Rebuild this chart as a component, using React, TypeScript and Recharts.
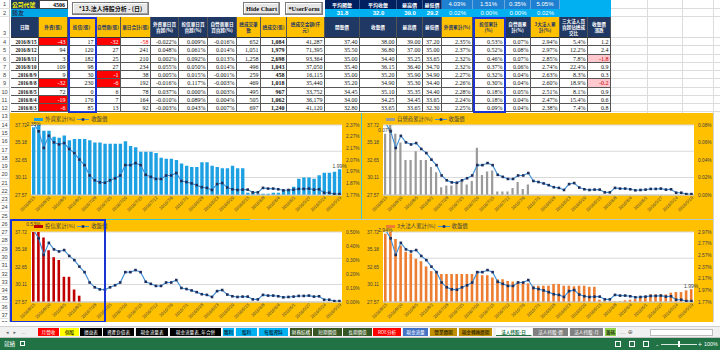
import React from 'react'
import { ComposedChart, Bar, Line, XAxis, YAxis, CartesianGrid, LabelList } from 'recharts'

const CJK = '"Noto Sans CJK TC", "Noto Sans CJK SC", sans-serif'
const SERIF = '"Liberation Serif", "DejaVu Serif", serif'
const SANS = '"Liberation Sans", "DejaVu Sans", sans-serif'

const NAVY = '#1f3864'
const YEL = '#ffc000'

// ---- 表格 (2016/8/15 ~ 2016/8/3) ----
const TABLE_DATES = ['2016/8/15', '2016/8/12', '2016/8/11', '2016/8/10', '2016/8/9', '2016/8/8', '2016/8/5', '2016/8/4', '2016/8/3']
const FOREIGN_LOTS = ['-43', '94', '3', '109', '9', '-32', '72', '-19', '-6']
const TRUST_LOTS = ['17', '120', '182', '98', '30', '230', '0', '176', '85']
const DEALER_LOTS = ['-32', '27', '25', '27', '-1', '-6', '6', '7', '13']
const DAY_TOTAL = ['-58', '241', '210', '234', '38', '192', '78', '164', '92']
const FOREIGN_PCT = ['-0.022%', '0.048%', '0.002%', '0.055%', '0.005%', '-0.016%', '0.037%', '-0.010%', '-0.003%']
const TRUST_PCT = ['0.009%', '0.061%', '0.092%', '0.050%', '0.015%', '0.117%', '0.000%', '0.089%', '0.043%']
const DEALER_PCT = ['-0.016%', '0.014%', '0.013%', '0.014%', '-0.001%', '-0.003%', '0.003%', '0.004%', '0.007%']
const TRADES = ['652', '1,051', '1,258', '496', '259', '469', '495', '505', '697']
const VOLUME = ['1,084', '1,979', '2,698', '1,043', '458', '1,018', '967', '1,062', '1,240']
const AMOUNT = ['41,287', '71,395', '93,364', '37,050', '16,115', '35,440', '33,752', '36,179', '41,120']
const OPEN_T = ['37.40', '35.50', '35.00', '35.40', '35.00', '35.20', '34.45', '34.00', '32.80']
const CLOSE_T = ['38.00', '36.80', '34.40', '36.15', '35.20', '34.90', '35.10', '34.25', '33.65']
const HIGH_T = ['39.00', '37.00', '35.25', '36.40', '35.90', '35.30', '35.35', '34.45', '33.65']
const LOW_T = ['37.20', '35.00', '33.65', '34.70', '34.90', '34.40', '34.40', '33.65', '32.30']
const F_CUM_T = ['2.35%', '2.37%', '2.32%', '2.32%', '2.27%', '2.26%', '2.28%', '2.24%', '2.25%']
const T_CUM_T = ['0.53%', '0.52%', '0.46%', '0.37%', '0.32%', '0.30%', '0.18%', '0.18%', '0.09%']
const D_CUM_T = ['0.07%', '0.08%', '0.07%', '0.06%', '0.04%', '0.04%', '0.05%', '0.04%', '0.04%']
const A_CUM_T = ['2.94%', '2.97%', '2.85%', '2.74%', '2.63%', '2.60%', '2.51%', '2.47%', '2.38%']
const RATIO_T = ['5.4%', '12.2%', '7.8%', '22.4%', '8.3%', '18.9%', '8.1%', '15.4%', '7.4%']
const CHANGE_T = ['1.2', '2.4', '-1.8', '0.9', '0.3', '-0.2', '0.9', '0.6', '0.8']

const TOP_LABELS = ['平均開盤', '平均收盤', '最高價', '最低價']
const TOP_VALUES = ['31.8', '32.0', '39.0', '29.2']
const CUM_TOTALS = ['4.03%', '1.51%', '0.35%', '5.05%']
const CUM_DAY = ['0.02%', '0.00%', '0.00%', '0.02%']

// ---- 圖表 (新到舊) ----
const DATES = [
  '2016/8/15', '2016/8/12', '2016/8/11', '2016/8/10', '2016/8/9', '2016/8/8', '2016/8/5', '2016/8/4', '2016/8/3', '2016/8/2',
  '2016/8/1', '2016/7/29', '2016/7/28', '2016/7/27', '2016/7/26', '2016/7/25', '2016/7/22', '2016/7/21', '2016/7/20', '2016/7/19',
  '2016/7/18', '2016/7/15', '2016/7/14', '2016/7/13', '2016/7/12', '2016/7/11', '2016/7/7', '2016/7/6', '2016/7/5', '2016/7/4',
  '2016/7/1', '2016/6/30', '2016/6/29', '2016/6/28', '2016/6/27', '2016/6/24', '2016/6/23', '2016/6/22', '2016/6/21', '2016/6/20',
  '2016/6/17', '2016/6/16', '2016/6/15', '2016/6/14', '2016/6/13', '2016/6/8', '2016/6/7', '2016/6/6', '2016/6/4', '2016/6/3',
  '2016/6/2', '2016/6/1', '2016/5/31', '2016/5/30', '2016/5/27', '2016/5/26', '2016/5/25', '2016/5/24', '2016/5/23', '2016/5/20',
  '2016/5/19',
]
const CLOSE_PRICE = [
  38.0, 36.8, 34.4, 36.15, 35.2, 34.9, 35.1, 34.25, 33.65, 32.7,
  31.9, 30.4, 29.7, 29.4, 29.35, 29.7, 30.0, 30.4, 31.9, 31.9,
  32.2, 31.9, 30.5, 30.2, 29.9, 29.9, 30.4, 30.4, 30.75, 29.6,
  29.45, 29.25, 29.0, 28.7, 28.6, 28.3, 29.15, 29.3, 28.65, 28.4,
  28.3, 28.35, 28.35, 27.95, 27.95, 28.6, 28.5, 28.5, 28.4, 28.25,
  28.3, 28.35, 28.45, 28.45, 28.5, 28.35, 28.4, 27.9, 27.9, 27.7,
  27.7,
]
const FOREIGN_CUM = [
  2.35, 2.37, 2.32, 2.32, 2.27, 2.26, 2.28, 2.24, 2.25, 2.25,
  2.25, 2.24, 2.22, 2.22, 2.21, 2.21, 2.21, 2.21, 2.23, 2.19,
  2.18, 2.14, 2.14, 2.14, 2.13, 2.09, 2.08, 2.08, 2.07, 2.04,
  2.02, 2.01, 2.01, 2.05, 2.05, 2.02, 2.01, 2.0, 2.0, 2.02,
  2.0, 2.0, 1.79, 1.79, 1.78, 1.78, 1.78, 1.79, 1.79, 1.81,
  1.82, 1.84, 1.91, 1.92, 1.92, 1.91, 1.94, 1.96, 1.96, 1.97,
  1.99,
]
const DEALER_CUM = [
  0.07, 0.08, 0.07, 0.06, 0.04, 0.04, 0.05, 0.04, 0.04, 0.032,
  0.026, 0.009, 0.011, 0.011, 0.015, 0.017, 0.012, 0.016, 0.054, 0.023,
  0.027, 0.028, 0.004, 0.004, 0.004, 0.008, 0.015, 0.007, 0.012, 0,
  0, 0, 0, 0, 0, 0, 0, 0, 0, 0,
  0, 0, 0, 0, 0, 0, 0, 0, 0, 0,
  0, 0, 0, 0, 0, 0, 0, 0, 0, 0,
  0,
]
const TRUST_CUM = [
  0.53, 0.52, 0.46, 0.37, 0.32, 0.3, 0.18, 0.18, 0.09, 0.045,
  0, 0, 0, 0, 0, 0, 0, 0, 0, 0,
  0, 0, 0, 0, 0, 0, 0, 0, 0, 0,
  0, 0, 0, 0, 0, 0, 0, 0, 0, 0,
  0, 0, 0, 0, 0, 0, 0, 0, 0, 0,
  0, 0, 0, 0, 0, 0, 0, 0, 0, 0,
  0,
]
const TOTAL_CUM = [
  2.94, 2.97, 2.85, 2.74, 2.63, 2.6, 2.51, 2.47, 2.38, 2.3,
  2.27, 2.25, 2.25, 2.25, 2.25, 2.25, 2.25, 2.25, 2.3, 2.23,
  2.23, 2.19, 2.16, 2.16, 2.13, 2.12, 2.12, 2.11, 2.09, 2.05,
  2.05, 2.05, 2.05, 2.08, 2.08, 2.05, 2.05, 2.04, 2.05, 2.05,
  2.03, 2.03, 1.81, 1.79, 1.78, 1.78, 1.78, 1.8, 1.81, 1.82,
  1.84, 1.86, 1.9, 1.9, 1.9, 1.9, 1.93, 1.94, 1.94, 1.97,
  1.99,
]
const PRICE_TICKS = [27.57, 28.84, 30.11, 31.38, 32.65, 33.92, 35.18, 36.45, 37.72]
const FOREIGN_TICKS = [1.77, 1.87, 1.97, 2.07, 2.17, 2.27, 2.37]
const DEALER_TICKS = [0, 0.01, 0.02, 0.03, 0.04, 0.05, 0.06, 0.07, 0.08]
const TRUST_TICKS = [0, 0.1, 0.2, 0.3, 0.4, 0.5]
const TOTAL_TICKS = [1.77, 1.97, 2.17, 2.37, 2.57, 2.77, 2.97]

const SHEET_TABS: [string, number, number, string, string][] = [
  ['月營收', 38, 22, '#ff0000', '#fff'],
  ['個股', 60, 20, '#ffff00', '#000'],
  ['損益表', 80, 23, '#000', '#fff'],
  ['資產負債表', 103, 32, '#000', '#fff'],
  ['現金流量表', 136, 33, '#000', '#fff'],
  ['現金流量表_年合併', 170, 52, '#000', '#fff'],
  ['獲利', 223, 12, '#00b0f0', '#000'],
  ['股利', 236, 22, '#00b0f0', '#000'],
  ['每股資料', 259, 30, '#00b0f0', '#000'],
  ['財務結構', 290, 23, '#375623', '#fff'],
  ['短期償債', 313, 30, '#375623', '#fff'],
  ['長期償債', 343, 30, '#375623', '#fff'],
  ['ROE分析', 373, 29, '#ff0000', '#fff'],
  ['現金流量', 403, 26, '#4472c4', '#fff'],
  ['營業週期', 430, 28, '#bf8f00', '#000'],
  ['現金轉換週期', 459, 34, '#bf8f00', '#000'],
  ['法人持股-日', 496, 36, '#ffffff', '#217346'],
  ['法人持股-週', 533, 36, '#808080', '#fff'],
  ['法人持股-月', 570, 34, '#808080', '#fff'],
  ['籌碼', 605, 12, '#92d050', '#000'],
]

const ROW_H = 8.27
const rowTop = (r: number) => (r === 1 ? 0 : r === 2 ? 9 : r === 3 ? 17 : 38 + (r - 4) * ROW_H)
const rowH = (r: number) => (r === 1 ? 9 : r === 2 ? 8 : r === 3 ? 21 : ROW_H)

type Col = {
  x: number
  w: number
  head: string[]
  hbg: string
  values: string[]
  kind?: 'date' | 'negBg' | 'negText' | 'change' | 'bold'
}

const COLS: Col[] = [
  { x: 11, w: 28, head: ['日期'], hbg: NAVY, values: TABLE_DATES, kind: 'date' },
  { x: 39, w: 29, head: ['外資(張)'], hbg: YEL, values: FOREIGN_LOTS, kind: 'negBg' },
  { x: 68, w: 28, head: ['投信(張)'], hbg: YEL, values: TRUST_LOTS },
  { x: 96, w: 25, head: ['自營商(張)'], hbg: YEL, values: DEALER_LOTS, kind: 'negBg' },
  { x: 121, w: 30, head: ['單日合計(張)'], hbg: YEL, values: DAY_TOTAL, kind: 'negText' },
  { x: 151, w: 28, head: ['外資單日買', '賣超(%)'], hbg: NAVY, values: FOREIGN_PCT },
  { x: 179, w: 29, head: ['投信單日買', '賣超(%)'], hbg: NAVY, values: TRUST_PCT },
  { x: 208, w: 29, head: ['自營商單日', '買賣超(%)'], hbg: NAVY, values: DEALER_PCT },
  { x: 237, w: 24, head: ['總成交筆', '數'], hbg: YEL, values: TRADES },
  { x: 261, w: 26, head: ['總成交(張)'], hbg: YEL, values: VOLUME, kind: 'bold' },
  { x: 287, w: 38, head: ['總成交金額(仟', '元)'], hbg: YEL, values: AMOUNT },
  { x: 325, w: 35, head: ['開盤價'], hbg: NAVY, values: OPEN_T },
  { x: 360, w: 37, head: ['收盤價'], hbg: NAVY, values: CLOSE_T },
  { x: 397, w: 26, head: ['最高價'], hbg: NAVY, values: HIGH_T },
  { x: 423, w: 19, head: ['最低價'], hbg: NAVY, values: LOW_T },
  { x: 442, w: 31, head: ['外資累計(%)'], hbg: YEL, values: F_CUM_T },
  { x: 473, w: 32, head: ['投信累計', '(%)'], hbg: YEL, values: T_CUM_T },
  { x: 505, w: 26, head: ['自營商累', '計(%)'], hbg: NAVY, values: D_CUM_T },
  { x: 531, w: 29, head: ['3大法人累', '計(%)'], hbg: YEL, values: A_CUM_T },
  { x: 560, w: 28, head: ['三大法人買', '賣超佔總成', '交比'], hbg: NAVY, values: RATIO_T },
  { x: 588, w: 23, head: ['收盤價', '漲跌'], hbg: NAVY, values: CHANGE_T, kind: 'change' },
]

function Box({ x, y, w, h, bg, children, style }: any) {
  return (
    <div
      style={{
        position: 'absolute',
        left: x,
        top: y,
        width: w,
        height: h,
        background: bg,
        boxSizing: 'border-box',
        overflow: 'hidden',
        whiteSpace: 'nowrap',
        ...style,
      }}
    >
      {children}
    </div>
  )
}

function RowHeaders() {
  const rows = []
  for (let r = 1; r <= 38; r++) {
    rows.push(
      <Box key={r} x={0} y={rowTop(r)} w={10} h={rowH(r)} bg="#ffffff"
        style={{ borderRight: '1px solid #c8c8c8', borderBottom: '1px solid #e2e2e2', fontSize: 5.6, lineHeight: `${rowH(r)}px`, textAlign: 'center', color: '#444', fontFamily: SANS, paddingTop: r === 3 ? 6 : 0 }}>
        {r}
      </Box>,
    )
  }
  return <>{rows}</>
}

function SheetGrid() {
  const lines = []
  for (let r = 1; r <= 12; r++) {
    lines.push(<Box key={'h' + r} x={611} y={rowTop(r) + rowH(r) - 1} w={109} h={1} bg="#dcdcdc" />)
  }
  ;[647, 682, 713].forEach((x) => lines.push(<Box key={'v' + x} x={x} y={0} w={1} h={113} bg="#dcdcdc" />))
  return <>{lines}</>
}

function TopInfo() {
  const cellFont = { fontSize: 6, lineHeight: '9px', fontFamily: CJK, fontWeight: 700 }
  const xs = [325, 360, 397, 423]
  const ws = [35, 37, 26, 19]
  const cx = [442, 473, 505, 531]
  const cw = [31, 32, 26, 29]
  const btn = {
    background: '#e6e6e6',
    border: '1px solid #7a7a7a',
    boxShadow: 'inset -1px -1px 0 #a0a0a0, inset 1px 1px 0 #fff',
    fontSize: 6.4,
    lineHeight: '11px',
    textAlign: 'center' as const,
    fontFamily: SERIF,
    fontWeight: 700,
    color: '#111',
  }
  return (
    <>
      <Box x={11} y={0} w={28} h={9} bg={NAVY} style={{ ...cellFont, fontSize: 5.8, color: '#ffff00', paddingLeft: 1 }}>公司代號</Box>
      <Box x={39} y={0} w={29} h={9} bg="#fff" style={{ ...cellFont, fontFamily: SERIF, textAlign: 'right', paddingRight: 2, border: '1px solid #444' }}>4506</Box>
      <Box x={11} y={9} w={57} h={8} bg="#00a6e6" style={{ ...cellFont, lineHeight: '8px', color: NAVY, paddingLeft: 1 }}>勝友</Box>
      <Box x={72} y={2} w={77} h={13} bg="#eee" style={{ ...btn, fontFamily: CJK, fontSize: 6 }}>*13.法人持股分析 - (日)</Box>
      <Box x={243} y={2} w={37} h={13} bg="#eee" style={btn}>Hide Chart</Box>
      <Box x={285} y={2} w={38} h={13} bg="#eee" style={btn}>*UserForm</Box>
      {TOP_LABELS.map((t, i) => (
        <Box key={t} x={xs[i]} y={0} w={ws[i]} h={9} bg="#002060" style={{ ...cellFont, fontSize: 5, color: '#fff', textAlign: 'center', borderRight: '1px solid #3a5a8a' }}>{t}</Box>
      ))}
      {TOP_VALUES.map((t, i) => (
        <Box key={'v' + i} x={xs[i]} y={9} w={ws[i]} h={8} bg="#00b0f0" style={{ ...cellFont, lineHeight: '8px', fontFamily: SANS, color: '#fff', textAlign: 'center' }}>{t}</Box>
      ))}
      {CUM_TOTALS.map((t, i) => (
        <Box key={'c' + i} x={cx[i]} y={0} w={cw[i]} h={9} bg="#1f7fd0" style={{ ...cellFont, fontFamily: SANS, fontWeight: 400, color: '#fff', textAlign: 'center', borderRight: '1px solid #6aa8e0' }}>{t}</Box>
      ))}
      {CUM_DAY.map((t, i) => (
        <Box key={'d' + i} x={cx[i]} y={9} w={cw[i]} h={8} bg="#00b0f0" style={{ ...cellFont, lineHeight: '8px', fontFamily: SANS, fontWeight: 400, color: '#fff', textAlign: 'center' }}>{t}</Box>
      ))}
      <Box x={560} y={0} w={51} h={17} bg="#00b0f0" />
    </>
  )
}

function DataTable() {
  const out: any[] = []
  COLS.forEach((c, ci) => {
    const dark = c.hbg === NAVY
    out.push(
      <Box key={'h' + ci} x={c.x} y={17} w={c.w} h={21} bg={c.hbg}
        style={{ display: 'flex', flexDirection: 'column', justifyContent: 'center', alignItems: 'center', color: dark ? '#fff' : '#1f3864', fontSize: 4.6, lineHeight: '6.2px', fontFamily: CJK, fontWeight: 700, borderRight: '1px solid #555', borderBottom: '1px solid #333' }}>
        {c.head.map((h) => <span key={h}>{h}</span>)}
      </Box>,
    )
    c.values.forEach((v, ri) => {
      const neg = v.startsWith('-')
      let bg = '#fff'
      let color = '#111'
      if (c.kind === 'negBg' && neg) { bg = '#ff0000'; color = '#fff' }
      if (c.kind === 'negText' && neg) color = '#ff0000'
      if (c.kind === 'change' && neg) { bg = '#ffc7ce'; color = '#c00000' }
      out.push(
        <Box key={ci + '-' + ri} x={c.x} y={38 + ri * ROW_H} w={c.w} h={ROW_H} bg={bg}
          style={{ color, fontSize: c.kind === 'date' ? 5.2 : 6, lineHeight: `${ROW_H}px`, fontFamily: SERIF, fontWeight: c.kind === 'date' || c.kind === 'bold' ? 700 : 400, textAlign: 'right', paddingRight: 1.5, borderRight: '1px solid #555', borderBottom: '1px solid #555' }}>
          {v}
        </Box>,
      )
    })
  })
  return <>{out}</>
}

function DateTick({ x, y, payload }: any) {
  return (
    <text x={x + 2} y={y + 2} transform={`rotate(-45 ${x + 2} ${y + 2})`} textAnchor="end" fontSize={4.4} fill="#404040" fontFamily={SANS}>
      {payload.value}
    </text>
  )
}

function SquareDot({ cx, cy }: any) {
  if (cx == null || cy == null) return null
  return <rect x={cx - 1.3} y={cy - 1.3} width={2.6} height={2.6} fill="#1f2f5c" />
}

function endLabel(props: any) {
  const { index, value } = props
  if (index !== 0 && index !== DATES.length - 1) return null
  const vb = props.viewBox && props.viewBox.width != null ? props.viewBox : props
  const x = vb.x + vb.width / 2
  const y = Math.min(vb.y, vb.y + vb.height) - 1.5
  return (
    <text x={x} y={y} textAnchor="middle" fontSize={5} fill="#404040" fontFamily={SANS}>
      {Number(value).toFixed(2)}%
    </text>
  )
}

type PanelProps = {
  left: number
  top: number
  width: number
  height: number
  dataKey: string
  legend: string
  color: string
  barSize: number
  pctDomain: [number, number]
  pctTicks: number[]
  legendTop: number
}

function Panel(p: PanelProps) {
  const data = DATES.map((date, i) => ({
    date,
    close: CLOSE_PRICE[i],
    foreign: FOREIGN_CUM[i],
    trust: TRUST_CUM[i],
    dealer: DEALER_CUM[i],
    total: TOTAL_CUM[i],
  }))
  return (
    <div style={{ position: 'absolute', left: p.left, top: p.top, width: p.width, height: p.height }}>
      <ComposedChart width={p.width} height={p.height} data={data} margin={{ top: 12, right: 2, bottom: 0, left: 2 }}>
        <CartesianGrid yAxisId="price" vertical={false} stroke="#d9d9d9" fill="#ffffff" />
        <XAxis dataKey="date" interval={2} tick={<DateTick />} height={p.height - 82} tickSize={1} tickMargin={0} tickLine={false} axisLine={{ stroke: '#c8c8c8' }} />
        <YAxis
          yAxisId="price"
          domain={[27.57, 37.72]}
          ticks={PRICE_TICKS}
          allowDataOverflow
          width={19}
          tickSize={3}
          tickMargin={1}
          tickLine={false}
          axisLine={false}
          tick={{ fontSize: 4.8, fill: '#404040', fontFamily: SANS }}
          tickFormatter={(v: number) => v.toFixed(2)}
        />
        <YAxis
          yAxisId="pct"
          orientation="right"
          domain={p.pctDomain}
          ticks={p.pctTicks}
          allowDataOverflow
          width={17}
          tickSize={3}
          tickMargin={1}
          tickLine={false}
          axisLine={false}
          tick={{ fontSize: 4.8, fill: '#404040', fontFamily: SANS }}
          tickFormatter={(v: number) => v.toFixed(2) + '%'}
        />
        <Bar yAxisId="pct" dataKey={p.dataKey} fill={p.color} barSize={p.barSize} isAnimationActive={false}>
          <LabelList dataKey={p.dataKey} content={endLabel} />
        </Bar>
        <Line yAxisId="price" dataKey="close" stroke="#3d8fd8" strokeWidth={1.1} dot={<SquareDot />} activeDot={false} isAnimationActive={false} />
      </ComposedChart>
      <div style={{ position: 'absolute', left: 24, top: p.legendTop, display: 'flex', alignItems: 'center', fontSize: 5.4, lineHeight: '7px', fontFamily: CJK, color: '#404040', whiteSpace: 'nowrap' }}>
        <span style={{ display: 'inline-block', width: 9, height: 3.5, background: p.color, marginRight: 2 }} />
        <span>{p.legend}</span>
        <svg width="12" height="5" style={{ margin: '0 2px' }}>
          <line x1="0" y1="2.5" x2="12" y2="2.5" stroke="#3d8fd8" strokeWidth="1" />
          <rect x="4.7" y="1.2" width="2.6" height="2.6" fill="#1f2f5c" />
        </svg>
        <span>收盤價</span>
      </div>
    </div>
  )
}

function SheetTabs() {
  return (
    <>
      <Box x={0} y={322} w={720} h={5} bg="#fff" style={{ borderBottom: '1px solid #d0d0d0' }} />
      <Box x={0} y={327} w={720} h={11} bg="#f0f0f0" style={{ borderBottom: '1px solid #c6c6c6' }} />
      <Box x={6} y={327} w={30} h={11} bg="transparent" style={{ fontSize: 5, lineHeight: '11px', color: '#666', fontFamily: SANS, letterSpacing: 5 }}>◂▸…</Box>
      {SHEET_TABS.map(([label, x, w, bg, fg]) => (
        <Box key={label} x={x} y={328} w={w} h={8} bg={bg}
          style={{ color: fg, fontSize: 4.6, lineHeight: '8px', textAlign: 'center', fontFamily: CJK, borderRight: '1px solid #fff', fontWeight: label === '法人持股-日' ? 700 : 400, borderBottom: label === '法人持股-日' ? '1px solid #217346' : 'none' }}>
          {label}
        </Box>
      ))}
      <Box x={620} y={327} w={24} h={11} bg="transparent" style={{ fontSize: 6, lineHeight: '11px', color: '#666', fontFamily: SANS }}>… ⊕</Box>
      <Box x={650} y={329} w={63} h={7} bg="#fff" style={{ border: '1px solid #bdbdbd' }} />
      <Box x={0} y={338} w={720} h={12} bg="#217346" />
      <Box x={4} y={338} w={16} h={12} bg="transparent" style={{ color: '#fff', fontSize: 5.6, lineHeight: '12px', fontFamily: CJK }}>就緒</Box>
      <Box x={20} y={341} w={5} h={5} bg="transparent" style={{ border: '1px solid #fff' }} />
      <Box x={615} y={341} w={6} h={6} bg="transparent" style={{ border: '1px solid #fff' }} />
      <Box x={629} y={341} w={6} h={6} bg="transparent" style={{ border: '1px solid #fff' }} />
      <Box x={643} y={341} w={6} h={6} bg="transparent" style={{ border: '1px solid #fff' }} />
      <Box x={656} y={338} w={5} h={12} bg="transparent" style={{ color: '#fff', fontSize: 7, lineHeight: '12px' }}>-</Box>
      <Box x={661} y={344} w={36} h={1} bg="#d8e8dd" />
      <Box x={678} y={341} w={2} h={6} bg="#fff" />
      <Box x={698} y={338} w={6} h={12} bg="transparent" style={{ color: '#fff', fontSize: 7, lineHeight: '12px' }}>+</Box>
      <Box x={704} y={338} w={16} h={12} bg="transparent" style={{ color: '#fff', fontSize: 5.4, lineHeight: '12px', fontFamily: SANS }}>100%</Box>
    </>
  )
}

export default function App() {
  return (
    <div style={{ position: 'fixed', left: 0, top: 0, width: 720, height: 350, overflow: 'hidden', background: '#fff', fontFamily: CJK }}>
      <RowHeaders />
      <SheetGrid />
      <TopInfo />
      <DataTable />
      <Box x={68} y={17} w={29} h={96} bg="transparent" style={{ border: '2px solid #1c33d4' }} />
      <Box x={473} y={17} w={33} h={96} bg="transparent" style={{ border: '2px solid #1c33d4' }} />
      <Box x={10} y={113} w={703} h={209} bg="#ffc000" />
      <Box x={713} y={113} w={7} h={209} bg="#fff" style={{ borderLeft: '1px solid #d0d0d0' }} />
      <Panel left={10} top={113} width={351} height={106} dataKey="foreign" legend="外資累計(%)" color="#1ea1e3" barSize={3.4} pctDomain={[1.77, 2.37]} pctTicks={FOREIGN_TICKS} legendTop={3} />
      <Panel left={362} top={113} width={351} height={106} dataKey="dealer" legend="自營商累計(%)" color="#9a9a9a" barSize={2.2} pctDomain={[0, 0.08]} pctTicks={DEALER_TICKS} legendTop={3} />
      <Panel left={10} top={220} width={351} height={102} dataKey="trust" legend="投信累計(%)" color="#c00000" barSize={2.6} pctDomain={[0, 0.5]} pctTicks={TRUST_TICKS} legendTop={3} />
      <Panel left={362} top={220} width={351} height={102} dataKey="total" legend="3大法人累計(%)" color="#ed7d31" barSize={2.6} pctDomain={[1.77, 2.97]} pctTicks={TOTAL_TICKS} legendTop={3} />
      <Box x={10} y={219} w={703} h={1} bg="#b9c9c9" />
      <Box x={10} y={219} w={240} h={1} bg="#3ec6d8" />
      <Box x={361} y={113} w={1} h={106} bg="#3ec6d8" />
      <Box x={10} y={219} w={96} h={104} bg="transparent" style={{ border: '2px solid #1c33d4' }} />
      <SheetTabs />
    </div>
  )
}
